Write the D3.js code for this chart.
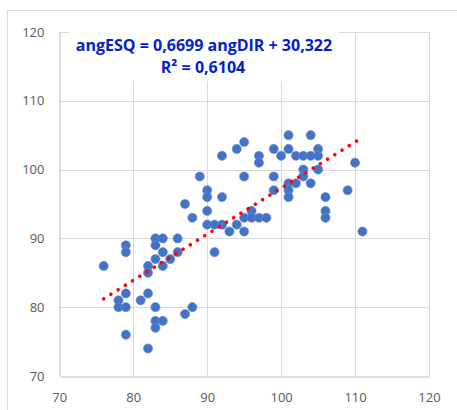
<!DOCTYPE html>
<html>
<head>
<meta charset="utf-8">
<script src="https://cdn.jsdelivr.net/npm/d3@7"></script>
<style>
  body { margin: 0; background: #fff; }
  svg { display: block; }
</style>
</head>
<body>
<svg></svg>
<script>
// angDIR (x) and angESQ (y)
const ANG_DIR = [
  87, 88, 90, 90, 79, 79, 83, 84, 86, 83, 84, 86, 83, 85, 84, 76,
  82, 82, 79, 82, 78, 81, 78, 79, 83, 88, 87, 83, 84, 83, 79, 82,
  101, 95, 94, 97, 97, 92, 99, 101, 100, 102, 89, 95, 99, 99, 101, 102,
  101, 101, 90, 90, 92, 91, 92, 93, 94, 95, 95, 96, 96, 97, 98, 91,
  104, 105, 103, 104, 105, 110, 103, 105, 103, 104, 109, 106, 106, 106, 111
];
const ANG_ESQ = [
  95, 93, 94, 92, 89, 88, 90, 90, 90, 89, 88, 88, 87, 87, 86, 86,
  86, 85, 82, 82, 81, 81, 80, 80, 80, 80, 79, 78, 78, 77, 76, 74,
  105, 104, 103, 102, 101, 102, 103, 103, 102, 102, 99, 99, 99, 97, 98, 98,
  97, 96, 97, 96, 96, 92, 92, 91, 92, 91, 93, 94, 93, 93, 93, 88,
  105, 103, 102, 102, 102, 101, 100, 100, 99, 98, 97, 96, 94, 93, 91
];
const X_TICKS = [70, 80, 90, 100, 110, 120];
const Y_TICKS = [70, 80, 90, 100, 110, 120];
const SLOPE = 0.6699;
const INTERCEPT = 30.322;
const EQ_LABEL = 'angESQ = 0,6699 angDIR + 30,322';
const R2_LABEL = 'R² = 0,6104';

const W = 457, H = 410;
const PLOT = { left: 59.3, right: 429, top: 32, bottom: 376 };

const points = ANG_DIR.map((d, i) => ({ x: d, y: ANG_ESQ[i] }));

const x = d3.scaleLinear().domain([70, 120]).range([PLOT.left, PLOT.right]);
const y = d3.scaleLinear().domain([70, 120]).range([PLOT.bottom, PLOT.top]);

const svg = d3.select('svg').attr('width', W).attr('height', H);

// outer chart frame (only top / left edges fall inside the window)
svg.append('path')
  .attr('d', `M7.5,${H} V10.5 H${W}`)
  .attr('fill', 'none')
  .attr('stroke', '#d9d9d9');

// gridlines
svg.append('g')
  .selectAll('line')
  .data(Y_TICKS.filter(t => t > 70))
  .join('line')
  .attr('x1', PLOT.left).attr('x2', PLOT.right)
  .attr('y1', d => Math.round(y(d)) + 0.5).attr('y2', d => Math.round(y(d)) + 0.5)
  .attr('stroke', '#d9d9d9');

svg.append('g')
  .selectAll('line')
  .data(X_TICKS.filter(t => t > 70))
  .join('line')
  .attr('x1', d => Math.round(x(d)) + 0.5).attr('x2', d => Math.round(x(d)) + 0.5)
  .attr('y1', PLOT.top).attr('y2', PLOT.bottom)
  .attr('stroke', '#d9d9d9');

// axes lines + labels
svg.append('g')
  .attr('transform', `translate(0,${Math.round(PLOT.bottom) + 0.5})`)
  .call(d3.axisBottom(x).tickValues(X_TICKS).tickSize(0).tickPadding(16))
  .call(g => g.select('.domain').attr('stroke', '#bfbfbf'))
  .call(g => g.selectAll('text')
    .attr('fill', '#595959')
    .style('font', '13px "Open Sans", sans-serif'));

svg.append('g')
  .attr('transform', `translate(${Math.round(PLOT.left) + 0.5},0)`)
  .call(d3.axisLeft(y).tickValues(Y_TICKS).tickSize(0).tickPadding(15))
  .call(g => g.select('.domain').attr('stroke', '#bfbfbf'))
  .call(g => g.selectAll('text')
    .attr('fill', '#595959')
    .style('font', '13px "Open Sans", sans-serif'));

// trendline label box hides the grid behind it
svg.append('rect')
  .attr('x', 69).attr('y', 24)
  .attr('width', 270).attr('height', 57)
  .attr('fill', '#fff');

const label = svg.append('g')
  .attr('fill', '#0022cc')
  .attr('text-anchor', 'middle')
  .style('font', 'bold 16px "Open Sans", sans-serif');
label.append('text').attr('x', 204).attr('y', 51).text(EQ_LABEL);
label.append('text').attr('x', 203).attr('y', 73).text(R2_LABEL);

// points
svg.append('g')
  .selectAll('circle')
  .data(points)
  .join('circle')
  .attr('cx', d => x(d.x))
  .attr('cy', d => y(d.y))
  .attr('r', 4.6)
  .attr('fill', '#4472c4')
  .attr('stroke', '#6a8fd2')
  .attr('stroke-width', 0.6);

// linear trendline, dotted red
const xExt = d3.extent(ANG_DIR);
svg.append('line')
  .attr('x1', x(xExt[0])).attr('y1', y(SLOPE * xExt[0] + INTERCEPT))
  .attr('x2', x(xExt[1])).attr('y2', y(SLOPE * xExt[1] + INTERCEPT))
  .attr('stroke', '#ff0000')
  .attr('stroke-width', 3.6)
  .attr('stroke-linecap', 'round')
  .attr('stroke-dasharray', '0.01 8.5');
</script>
</body>
</html>
